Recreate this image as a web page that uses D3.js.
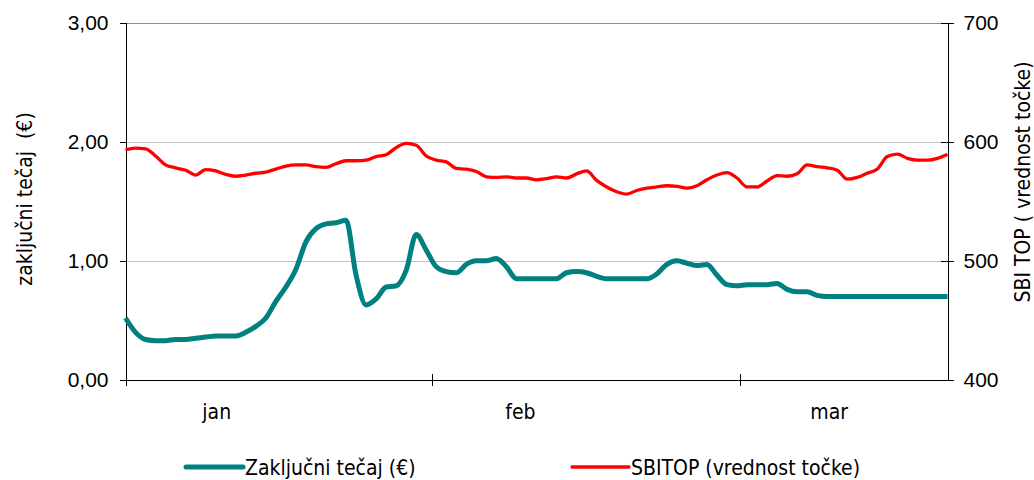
<!DOCTYPE html>
<html lang="sl">
<head>
    <meta charset="UTF-8">
    <title>Zaključni tečaj in SBITOP</title>
    <script src="https://d3js.org/d3.v7.min.js"></script>
</head>
<style>
    body {
        margin: 0;
        padding: 0;
        background: #fff;
    }
    svg {
        display: block;
        font-family: "DejaVu Sans Condensed", "DejaVu Sans", sans-serif;
        font-stretch: condensed;
    }
    .axis text {
        font-size: 21px;
        fill: #000;
    }
    .axis path, .axis line {
        stroke: #000;
    }
</style>
<body>
<div class="chart"></div>
<script>
  /** DATA */
  // trading days on the category axis, 0 = first day of january
  var tradingDays = d3.range(0, 83);

  // closing price of the share (€), left axis
  var closePrice = [
    0.52, 0.40, 0.34, 0.33, 0.33, 0.34, 0.34, 0.35, 0.36, 0.37,
    0.37, 0.37, 0.40, 0.45, 0.52, 0.66, 0.78, 0.93, 1.16, 1.27,
    1.31, 1.32, 1.34, 0.88, 0.63, 0.68, 0.78, 0.79, 0.92, 1.22,
    1.09, 0.95, 0.91, 0.90, 0.97, 1.00, 1.00, 1.02, 0.95, 0.85,
    0.85, 0.85, 0.85, 0.85, 0.90, 0.91, 0.90, 0.87, 0.85, 0.85,
    0.85, 0.85, 0.85, 0.89, 0.97, 1.00, 0.98, 0.96, 0.97, 0.88,
    0.80, 0.79, 0.80, 0.80, 0.80, 0.81, 0.76, 0.74, 0.74, 0.71,
    0.70, 0.70, 0.70, 0.70, 0.70, 0.70, 0.70, 0.70, 0.70, 0.70,
    0.70, 0.70, 0.70
  ];

  // SBITOP index value (points), right axis
  var sbitop = [
    593, 594.5, 594, 588, 580.5, 578, 576, 572, 576.5, 575.5,
    572.5, 571, 572, 573.5, 574.5, 577, 579.5, 580.5, 580.5, 579,
    578.5, 581.5, 584, 584, 584.5, 587.5, 589, 595, 598.5, 597,
    588, 584.5, 583, 577.5, 577, 575, 570.5, 570, 570.5, 569.5,
    569.5, 568, 569, 570.5, 569.5, 573, 575.5, 567.5, 562, 558,
    556, 559, 561, 562, 563, 562.5, 561, 563, 568, 572,
    574, 569.5, 562, 562, 567, 571.5, 571, 573, 580.5, 579,
    578, 576, 568.5, 570, 573.5, 577, 587.5, 589.5, 586, 584.5,
    584.5, 586, 589.5
  ];

  // month boundaries (tick marks) and month labels, in trading-day units
  var monthTicks = [0, 30.6, 61.3];
  var monthLabels = ['jan', 'feb', 'mar'];
  var monthLabelDays = [9.1, 39.4, 70.2];

  var leftTicks = [0, 1, 2, 3];
  var rightTicks = [400, 500, 600, 700];

  var leftTitle = 'zaključni tečaj  (€)';
  var rightTitle = 'SBI TOP ( vrednost točke)';
  var seriesNames = ['Zaključni tečaj (€)', 'SBITOP (vrednost točke)'];
  var seriesColors = ['#008080', '#ff0000'];

  /** LAYOUT */
  var width = 1034;
  var height = 480;
  var plotLeft = 125.5;
  var plotRight = 947.5;
  var plotTop = 22.5;
  var plotBottom = 380;

  var svg_selection = d3.select('.chart')
    .append('svg')
    .attr('width', width)
    .attr('height', height);

  /** SCALES */
  var xScale = d3.scaleLinear()
    .domain([0, tradingDays.length - 1])
    .range([plotLeft, plotRight]);

  var yLeft = d3.scaleLinear()
    .domain([0, 3])
    .range([plotBottom, plotTop]);

  var yRight = d3.scaleLinear()
    .domain([400, 700])
    .range([plotBottom, plotTop]);

  /** gridlines */
  svg_selection.append('g')
    .classed('grid', true)
    .selectAll('line')
    .data(leftTicks.slice(1))
    .enter().append('line')
    .attr('x1', plotLeft)
    .attr('x2', plotRight)
    .attr('y1', function (d) { return Math.round(yLeft(d)) + 0.5; })
    .attr('y2', function (d) { return Math.round(yLeft(d)) + 0.5; })
    .attr('stroke', function (d) { return d === 3 ? '#8c8c8c' : '#c0c0c0'; })
    .attr('stroke-width', 1);

  /** AXES */
  svg_selection.append('g')
    .classed('axis', true)
    .attr('transform', 'translate(' + plotLeft + ',0)')
    .call(d3.axisLeft(yLeft)
      .tickValues(leftTicks)
      .tickSizeInner(6)
      .tickSizeOuter(0)
      .tickPadding(11)
      .tickFormat(function (d) { return d.toFixed(2).replace('.', ','); }));

  var rightAxis = svg_selection.append('g')
    .classed('axis', true)
    .attr('transform', 'translate(' + plotRight + ',0)')
    .call(d3.axisRight(yRight)
      .tickValues(rightTicks)
      .tickSizeInner(6)
      .tickSizeOuter(0)
      .tickPadding(10));
  // right ticks cross the axis line
  rightAxis.selectAll('.tick line').attr('x1', -7);

  var bottomAxis = svg_selection.append('g')
    .classed('axis', true)
    .attr('transform', 'translate(0,' + plotBottom + ')')
    .call(d3.axisBottom(xScale)
      .tickValues(monthTicks)
      .tickSizeInner(6)
      .tickSizeOuter(0)
      .tickFormat(''));
  bottomAxis.selectAll('.tick line').attr('y1', -6);

  svg_selection.selectAll('.axis path, .axis line')
    .attr('shape-rendering', 'crispEdges');

  /** month labels */
  svg_selection.append('g')
    .classed('axis', true)
    .selectAll('text')
    .data(monthLabels)
    .enter().append('text')
    .attr('x', function (d, i) { return xScale(monthLabelDays[i]); })
    .attr('y', 419)
    .attr('text-anchor', 'middle')
    .text(function (d) { return d; });

  /** axis titles */
  svg_selection.append('text')
    .attr('class', 'axis-title')
    .attr('transform', 'translate(32,199) rotate(-90)')
    .attr('text-anchor', 'middle')
    .style('font-size', '21px')
    .style('white-space', 'pre')
    .text(leftTitle);

  svg_selection.append('text')
    .attr('class', 'axis-title')
    .attr('transform', 'translate(1030,182) rotate(-90)')
    .attr('text-anchor', 'middle')
    .style('font-size', '21px')
    .text(rightTitle);

  /** LINES */
  var priceLine = d3.line()
    .x(function (d, i) { return xScale(tradingDays[i]); })
    .y(function (d) { return yLeft(d); })
    .curve(d3.curveMonotoneX);

  var indexLine = d3.line()
    .x(function (d, i) { return xScale(tradingDays[i]); })
    .y(function (d) { return yRight(d); })
    .curve(d3.curveMonotoneX);

  svg_selection.append('path')
    .datum(sbitop)
    .attr('d', indexLine)
    .attr('fill', 'none')
    .attr('stroke', seriesColors[1])
    .attr('stroke-width', 3.3)
    .attr('stroke-linejoin', 'round');

  svg_selection.append('path')
    .datum(closePrice)
    .attr('d', priceLine)
    .attr('fill', 'none')
    .attr('stroke', seriesColors[0])
    .attr('stroke-width', 5)
    .attr('stroke-linejoin', 'round');

  /** LEGEND */
  var legendX = [186, 572];
  var legend_selection = svg_selection.append('g')
    .classed('legend', true)
    .selectAll('g')
    .data(seriesNames)
    .enter().append('g')
    .attr('transform', function (d, i) { return 'translate(' + legendX[i] + ',467)'; });

  legend_selection.append('line')
    .attr('x1', 0)
    .attr('x2', 57)
    .attr('stroke', function (d, i) { return seriesColors[i]; })
    .attr('stroke-width', function (d, i) { return i === 0 ? 5 : 3.3; })
    .attr('stroke-linecap', 'round');

  legend_selection.append('text')
    .attr('x', 59)
    .attr('y', 8)
    .style('font-size', '21px')
    .text(function (d) { return d; });
</script>
</body>
</html>
